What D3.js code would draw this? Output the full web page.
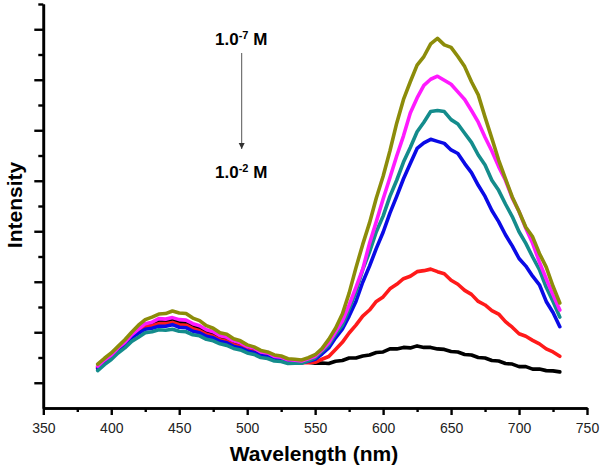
<!DOCTYPE html>
<html>
<head>
<meta charset="utf-8">
<script src="https://cdn.jsdelivr.net/npm/d3@7"></script>
<style>
  html, body { margin: 0; padding: 0; background: #fff; }
  svg { display: block; font-family: "Liberation Sans", Arial, Helvetica, sans-serif; }
</style>
</head>
<body>
<svg id="chart" width="600" height="468"></svg>
<script>
// ---------- data ----------
const wavelengths = [390,395,400,405,410,415,420,425,430,435,440,445,450,455,460,465,470,475,480,485,490,495,500,505,510,515,520,525,530,535,540,545,550,555,560,565,570,575,580,585,590,595,600,605,610,615,620,625,630,635,640,645,650,655,660,665,670,675,680,685,690,695,700,705,710,715,720,725,730];

const conc_1e7 = [1.74,1.97,2.18,2.44,2.70,3.00,3.28,3.50,3.60,3.72,3.74,3.84,3.76,3.74,3.56,3.46,3.26,3.16,2.98,2.92,2.74,2.66,2.50,2.42,2.28,2.22,2.10,2.06,1.95,1.93,1.90,1.99,2.11,2.35,2.72,3.16,3.72,4.55,5.55,6.48,7.33,8.32,9.18,10.18,11.28,12.22,12.92,13.58,13.92,14.42,14.64,14.38,14.28,13.92,13.52,12.92,12.40,11.52,10.68,9.82,9.08,8.36,7.78,7.16,6.78,6.12,5.58,4.82,4.16];
const conc_1e6 = [1.66,1.90,2.10,2.38,2.60,2.90,3.12,3.34,3.40,3.54,3.52,3.58,3.50,3.48,3.34,3.26,3.10,3.02,2.86,2.80,2.66,2.58,2.44,2.38,2.22,2.18,2.04,2.01,1.91,1.89,1.86,1.95,2.05,2.30,2.58,3.02,3.44,4.08,4.78,5.50,6.52,7.38,8.28,9.12,9.98,10.78,11.68,12.28,12.78,13.02,13.14,12.98,12.82,12.52,12.22,11.78,11.32,10.72,10.18,9.56,9.02,8.32,7.78,7.12,6.52,5.78,5.12,4.48,3.88];
const conc_1e5 = [1.48,1.72,1.92,2.18,2.38,2.64,2.80,2.98,3.02,3.10,3.08,3.12,3.04,3.02,2.90,2.86,2.72,2.66,2.54,2.48,2.36,2.30,2.18,2.12,2.00,1.96,1.86,1.84,1.76,1.77,1.77,1.87,1.99,2.24,2.50,2.92,3.28,3.92,4.60,5.48,6.18,6.98,7.60,8.38,9.02,9.74,10.32,10.94,11.32,11.74,11.78,11.74,11.42,11.25,10.88,10.52,10.02,9.62,9.02,8.62,8.08,7.58,6.98,6.52,5.98,5.48,4.78,4.22,3.60];
const conc_1e4 = [1.55,1.80,2.00,2.28,2.50,2.78,2.96,3.12,3.16,3.24,3.24,3.30,3.20,3.18,3.04,2.98,2.84,2.78,2.64,2.58,2.44,2.38,2.26,2.20,2.08,2.04,1.94,1.91,1.83,1.81,1.79,1.85,1.93,2.14,2.38,2.78,3.12,3.64,4.22,4.98,5.62,6.32,6.96,7.72,8.38,9.08,9.68,10.28,10.50,10.64,10.56,10.48,10.22,10.08,9.68,9.32,8.82,8.38,7.82,7.38,6.86,6.42,5.92,5.62,5.22,4.88,4.22,3.78,3.22];
const conc_1e3 = [1.58,1.82,2.04,2.32,2.54,2.84,3.04,3.22,3.26,3.34,3.34,3.39,3.30,3.28,3.14,3.06,2.92,2.84,2.70,2.64,2.50,2.44,2.30,2.24,2.12,2.08,1.96,1.93,1.85,1.83,1.79,1.79,1.81,1.93,2.04,2.32,2.60,2.97,3.28,3.64,3.88,4.22,4.40,4.72,4.90,5.12,5.22,5.40,5.44,5.50,5.40,5.32,5.06,4.90,4.66,4.50,4.22,4.08,3.86,3.72,3.42,3.20,2.94,2.84,2.68,2.54,2.34,2.22,2.05];
const conc_1e2 = [1.62,1.86,2.06,2.36,2.58,2.90,3.12,3.32,3.36,3.44,3.42,3.48,3.38,3.36,3.22,3.16,3.00,2.94,2.80,2.74,2.60,2.52,2.38,2.34,2.22,2.18,2.06,2.02,1.92,1.90,1.83,1.81,1.77,1.78,1.76,1.85,1.88,1.98,1.98,2.06,2.10,2.20,2.22,2.34,2.34,2.40,2.38,2.46,2.40,2.40,2.34,2.32,2.24,2.22,2.12,2.10,2.00,1.98,1.88,1.86,1.76,1.74,1.64,1.64,1.54,1.54,1.48,1.47,1.43];

const seriesNames  = ["1.0e-2 M","1.0e-3 M","1.0e-4 M","1.0e-5 M","1.0e-6 M","1.0e-7 M"];
const seriesValues = [conc_1e2, conc_1e3, conc_1e4, conc_1e5, conc_1e6, conc_1e7];
const seriesColors = ["#000000","#ff1a1a","#0a0ae6","#148c8c","#ff1aff","#8c8c0a"];

const xMajorTicks = [350,400,450,500,550,600,650,700,750];
const xMinorTicks = [375,425,475,525,575,625,675,725];
const yMajorTicks = [1,3,5,7,9,11,13,15];
const yMinorTicks = [2,4,6,8,10,12,14,16];

const xLabel = "Wavelength (nm)";
const yLabel = "Intensity";

// ---------- drawing ----------
const svg = d3.select("#chart");
const x = d3.scaleLinear().domain([350, 750]).range([43.3, 587]);
const y = d3.scaleLinear().domain([0, 16]).range([408, 4]);

// lines
const line = d3.line()
  .x((d, i) => x(wavelengths[i]))
  .y(d => y(d));

svg.append("g").selectAll("path")
  .data(seriesValues)
  .join("path")
  .attr("d", d => line(d))
  .attr("fill", "none")
  .attr("stroke", (d, i) => seriesColors[i])
  .attr("stroke-width", 3.6)
  .attr("stroke-linejoin", "round")
  .attr("stroke-linecap", "round");

// axes
function styleAxis(g) {
  g.select(".domain").attr("stroke", "#000").attr("stroke-width", 2.6);
  g.selectAll(".tick line").attr("stroke", "#000").attr("stroke-width", 2.4);
  g.selectAll(".tick text").attr("fill", "#222").attr("font-size", 14)
    .attr("font-family", "'Liberation Sans', Arial, sans-serif");
}

svg.append("g").attr("transform", "translate(0,408)")
  .call(d3.axisBottom(x).tickValues(xMinorTicks).tickSize(4).tickSizeOuter(0).tickFormat(""))
  .call(styleAxis);
svg.append("g").attr("transform", "translate(0,408)")
  .call(d3.axisBottom(x).tickValues(xMajorTicks).tickSize(7).tickSizeOuter(0).tickPadding(8).tickFormat(d3.format("d")))
  .call(styleAxis);

svg.append("g").attr("transform", "translate(43.3,0)")
  .call(d3.axisLeft(y).tickValues(yMinorTicks).tickSize(5).tickSizeOuter(0).tickFormat(""))
  .call(styleAxis);
svg.append("g").attr("transform", "translate(43.3,0)")
  .call(d3.axisLeft(y).tickValues(yMajorTicks).tickSize(9).tickSizeOuter(0).tickFormat(""))
  .call(styleAxis);

// axis titles
svg.append("text")
  .attr("x", 314).attr("y", 461)
  .attr("text-anchor", "middle")
  .attr("font-weight", "bold").attr("font-size", 21)
  .attr("fill", "#000")
  .text(xLabel);

svg.append("text")
  .attr("transform", "translate(22,205) rotate(-90)")
  .attr("text-anchor", "middle")
  .attr("font-weight", "bold").attr("font-size", 21)
  .attr("fill", "#000")
  .text(yLabel);

// annotation
function concLabel(yPos, exp) {
  const t = svg.append("text")
    .attr("x", 215).attr("y", yPos)
    .attr("font-weight", "bold").attr("font-size", 17)
    .attr("fill", "#000");
  t.append("tspan").text("1.0");
  t.append("tspan").attr("font-size", 11).attr("dy", -6).text(exp);
  t.append("tspan").attr("dy", 6).text(" M");
}
concLabel(45, "-7");
concLabel(178, "-2");

svg.append("defs").append("marker")
  .attr("id", "arrowhead")
  .attr("viewBox", "0 0 10 10")
  .attr("refX", 10).attr("refY", 5)
  .attr("markerWidth", 6).attr("markerHeight", 7)
  .attr("markerUnits", "userSpaceOnUse")
  .attr("orient", "auto")
  .append("path").attr("d", "M0,0 L10,5 L0,10 Z").attr("fill", "#333");

svg.append("line")
  .attr("x1", 241.7).attr("y1", 53)
  .attr("x2", 241.7).attr("y2", 149)
  .attr("stroke", "#555").attr("stroke-width", 1)
  .attr("marker-end", "url(#arrowhead)");
</script>
</body>
</html>
